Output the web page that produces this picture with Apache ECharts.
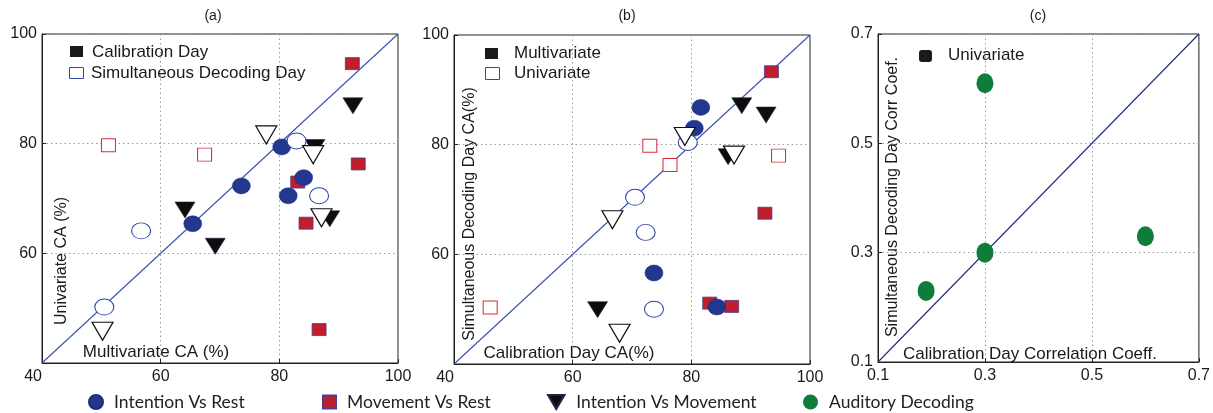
<!DOCTYPE html>
<html>
<head>
<meta charset="utf-8">
<script src="https://cdn.jsdelivr.net/npm/echarts@6/dist/echarts.min.js"></script>
<style>
html,body{margin:0;padding:0;background:#fff;}
#chart{width:1213px;height:413px;}
</style>
</head>
<body>
<div id="chart"></div>
<script>
// ---------- DATA ----------
// tick labels
const abTicks = [40, 60, 80, 100];
const cTicks = [0.1, 0.3, 0.5, 0.7];

// Panel (a): x = Multivariate CA (%), y = Univariate CA (%)
const aIntentionRestCal = [[80.4,79.4],[73.6,72.3],[65.4,65.4],[84.1,73.8],[81.5,70.5]];
const aIntentionRestSim = [[82.9,80.5],[86.7,70.5],[56.7,64.1],[50.5,50.2]];
const aMovementRestCal  = [[92.3,94.6],[93.3,76.3],[83.1,73.0],[84.5,65.5],[86.7,46.1]];
const aMovementRestSim  = [[51.2,79.7],[67.4,78.0]];
const aIntentionMoveCal = [[92.4,86.9],[64.1,67.9],[69.2,61.3],[86.0,79.3],[88.5,66.3]];
const aIntentionMoveSim = [[77.8,81.6],[85.7,78.0],[87.1,66.5],[50.2,45.8]];

// Panel (b): x = Calibration Day CA(%), y = Simultaneous Decoding Day CA(%)
const bIntentionRestMulti = [[81.6,86.8],[80.5,83.0],[73.7,56.6],[84.3,50.4]];
const bIntentionRestUni   = [[79.4,80.4],[70.5,70.4],[72.3,64.0],[73.7,50.0]];
const bMovementRestMulti  = [[93.5,93.3],[92.4,67.5],[83.1,51.1],[86.8,50.5]];
const bMovementRestUni    = [[73.0,79.8],[76.4,76.3],[94.7,78.0],[46.1,50.3]];
const bIntentionMoveMulti = [[88.5,87.1],[92.6,85.4],[86.2,77.8],[64.2,49.9]];
const bIntentionMoveUni   = [[78.9,81.5],[87.2,78.1],[66.7,66.3],[67.9,45.6]];

// Panel (c): x = Calibration Day Correlation Coeff., y = Simultaneous Decoding Day Corr Coef.
const cAuditory = [[0.30,0.61],[0.30,0.30],[0.19,0.23],[0.60,0.33]];

// identity lines
const diagAB = [[40,40],[100,100]];
const diagC = [[0.1,0.1],[0.7,0.7]];

// ---------- STYLE ----------
const FONT = 'Liberation Sans, Arial, sans-serif';
const ELLIPSE = 'path://M0,10A10,10,0,1,1,20,10A10,10,0,1,1,0,10Z';
const TRI_DOWN = 'path://M0,0L20,0L10,17Z';
const BLUE = '#23378f';
const RED = '#c01e2c';
const GREEN = '#0e7c3a';

function axisPair(idx, ticks, isC) {
  const min = ticks[0], max = ticks[ticks.length-1], interval = ticks[1]-ticks[0];
  const fmt = v => isC ? Number(v).toFixed(1) : String(Math.round(v));
  const common = {
    gridIndex: idx, type: 'value', min: min, max: max, interval: interval,
    axisLine: {show: true, lineStyle: {color: '#222', width: 1}},
    axisTick: {show: true, inside: true, length: 4, lineStyle: {color: '#222'}},
    splitLine: {show: true, lineStyle: {color: '#9a9a9a', type: [1.5, 3], width: 1}},
  };
  const x = Object.assign({}, common, {
    axisLabel: {fontFamily: FONT, fontSize: 16, color: '#1a1a1a', margin: 6, formatter: fmt,
      alignMinLabel: isC ? 'center' : 'right'}
  });
  const y = Object.assign({}, common, {
    axisLabel: {fontFamily: FONT, fontSize: 16, color: '#1a1a1a', margin: 5, formatter: fmt,
      showMinLabel: !!isC}
  });
  return [x, y];
}

const ax = [axisPair(0, abTicks, false), axisPair(1, abTicks, false), axisPair(2, cTicks, true)];

function scatter(name, data, gi, kind, z) {
  const s = {type: 'scatter', name: name, data: data, xAxisIndex: gi, yAxisIndex: gi, z: z,
    emphasis: {disabled: true}};
  switch (kind) {
    case 'circleFill':
      Object.assign(s, {symbol: ELLIPSE, symbolSize: [18,16], itemStyle: {color: BLUE, borderColor: '#1d2d7a', borderWidth: 0.5}}); break;
    case 'circleOpen':
      Object.assign(s, {symbol: ELLIPSE, symbolSize: [19,16], itemStyle: {color: '#fff', borderColor: '#2c45a6', borderWidth: 1}}); break;
    case 'squareFill':
      Object.assign(s, {symbol: 'rect', symbolSize: [14,12], itemStyle: {color: RED, borderColor: '#4a3f90', borderWidth: 0.8}}); break;
    case 'squareOpen':
      Object.assign(s, {symbol: 'rect', symbolSize: [14,13], itemStyle: {color: '#fff', borderColor: '#d32f38', borderWidth: 1}}); break;
    case 'triFill':
      Object.assign(s, {symbol: TRI_DOWN, symbolSize: [20,16], itemStyle: {color: '#0d0d0d', borderColor: '#22224a', borderWidth: 0.6}}); break;
    case 'triOpen':
      Object.assign(s, {symbol: TRI_DOWN, symbolSize: [21,18], itemStyle: {color: '#fff', borderColor: '#111', borderWidth: 1.2}}); break;
    case 'green':
      Object.assign(s, {symbol: ELLIPSE, symbolSize: [17,20], itemStyle: {color: GREEN}}); break;
  }
  s.itemStyle.opacity = 1;
  return s;
}

function diag(data, gi, color) {
  return {type: 'line', data: data, xAxisIndex: gi, yAxisIndex: gi, symbol: 'none', z: 1,
    lineStyle: {color: color, width: 1.1}, silent: true, name: 'diag' + gi};
}

const series = [
  diag(diagAB, 0, '#3652ad'),
  scatter('Movement Vs Rest', aMovementRestCal, 0, 'squareFill', 2),
  scatter('Intention Vs Movement', aIntentionMoveCal, 0, 'triFill', 3),
  scatter('Intention Vs Rest', aIntentionRestCal, 0, 'circleFill', 4),
  scatter('Movement Vs Rest (sim)', aMovementRestSim, 0, 'squareOpen', 5),
  scatter('Intention Vs Rest (sim)', aIntentionRestSim, 0, 'circleOpen', 6),
  scatter('Intention Vs Movement (sim)', aIntentionMoveSim, 0, 'triOpen', 7),

  diag(diagAB, 1, '#3652ad'),
  scatter('Movement Vs Rest', bMovementRestMulti, 1, 'squareFill', 2),
  scatter('Intention Vs Movement', bIntentionMoveMulti, 1, 'triFill', 3),
  scatter('Intention Vs Rest', bIntentionRestMulti, 1, 'circleFill', 4),
  scatter('Movement Vs Rest (uni)', bMovementRestUni, 1, 'squareOpen', 5),
  scatter('Intention Vs Rest (uni)', bIntentionRestUni, 1, 'circleOpen', 6),
  scatter('Intention Vs Movement (uni)', bIntentionMoveUni, 1, 'triOpen', 7),

  diag(diagC, 2, '#1e2a80'),
  scatter('Auditory Decoding', cAuditory, 2, 'green', 4)
];

const LEG_FONT = 'Lato, "Noto Sans", sans-serif';
function bottomLegend(name, icon, left, w, h) {
  return {
    left: left, top: 393, padding: 0, selectedMode: false, itemWidth: w, itemHeight: h,
    data: [{name: name, icon: icon}],
    textStyle: {fontFamily: LEG_FONT, fontSize: 17.5, color: '#222', padding: [0,0,0,6]}
  };
}

function txt(str, x, y, opts) {
  return Object.assign({
    type: 'text', x: x, y: y, silent: true,
    style: Object.assign({text: str, fontFamily: FONT, fontSize: 16, fill: '#1a1a1a',
      align: 'left', verticalAlign: 'middle'}, (opts && opts.style) || {})
  }, opts && opts.rotation ? {rotation: opts.rotation} : {});
}

const graphics = [
  // panel titles
  txt('(a)', 213, 16, {style: {align: 'center', fontSize: 14}}),
  txt('(b)', 627, 16, {style: {align: 'center', fontSize: 14}}),
  txt('(c)', 1038, 16, {style: {align: 'center', fontSize: 14}}),
  // axis names inside plots
  txt('Univariate CA (%)', 62, 261, {rotation: Math.PI/2, style: {align: 'center', fontSize: 16}}),
  txt('Multivariate CA (%)', 156, 352, {style: {align: 'center', fontSize: 17}}),
  txt('Simultaneous Decoding Day CA(%)', 470, 214, {rotation: Math.PI/2, style: {align: 'center', fontSize: 16}}),
  txt('Calibration Day CA(%)', 569, 353, {style: {align: 'center', fontSize: 17}}),
  txt('Simultaneous Decoding Day Corr Coef.', 893, 197, {rotation: Math.PI/2, style: {align: 'center', fontSize: 16}}),
  txt('Calibration Day Correlation Coeff.', 1030, 354, {style: {align: 'center', fontSize: 17}}),
  // in-plot legends
  {type: 'rect', shape: {x: 70, y: 46, width: 13, height: 11}, style: {fill: '#1a1a1a'}, silent: true},
  txt('Calibration Day', 92, 52, {style: {fontSize: 17}}),
  {type: 'rect', shape: {x: 69.5, y: 67.5, width: 14, height: 11}, style: {fill: '#fff', stroke: '#3048a8', lineWidth: 1}, silent: true},
  txt('Simultaneous Decoding Day', 91, 73, {style: {fontSize: 17}}),
  {type: 'rect', shape: {x: 485, y: 48, width: 13, height: 11}, style: {fill: '#1a1a1a'}, silent: true},
  txt('Multivariate', 514, 53, {style: {fontSize: 17}}),
  {type: 'rect', shape: {x: 485.5, y: 67.5, width: 14, height: 12}, style: {fill: '#fff', stroke: '#3048a8', lineWidth: 1}, silent: true},
  txt('Univariate', 514, 73, {style: {fontSize: 17}}),
  {type: 'rect', shape: {x: 919, y: 50, width: 13, height: 12, r: 3}, style: {fill: '#1a1a1a'}, silent: true},
  txt('Univariate', 948, 55, {style: {fontSize: 17}})
];

const option = {
  backgroundColor: '#fff',
  animation: false,
  grid: [
    {left: 42, top: 34, width: 356, height: 329, show: true, borderColor: '#222', borderWidth: 1, backgroundColor: 'transparent'},
    {left: 454, top: 35, width: 356, height: 329, show: true, borderColor: '#222', borderWidth: 1, backgroundColor: 'transparent'},
    {left: 878, top: 34, width: 324, height: 328, show: true, borderColor: '#222', borderWidth: 1, backgroundColor: 'transparent'}
  ],
  xAxis: ax.map(p => p[0]),
  yAxis: ax.map(p => p[1]),
  legend: [
    bottomLegend('Intention Vs Rest', ELLIPSE, 88, 14, 16),
    bottomLegend('Movement Vs Rest', 'rect', 322, 13, 13),
    bottomLegend('Intention Vs Movement', TRI_DOWN, 547, 18, 14),
    bottomLegend('Auditory Decoding', ELLIPSE, 803, 15, 16)
  ],
  series: series,
  graphic: graphics
};

const chart = echarts.init(document.getElementById('chart'), null, {renderer: 'canvas'});
chart.setOption(option);
</script>
</body>
</html>
